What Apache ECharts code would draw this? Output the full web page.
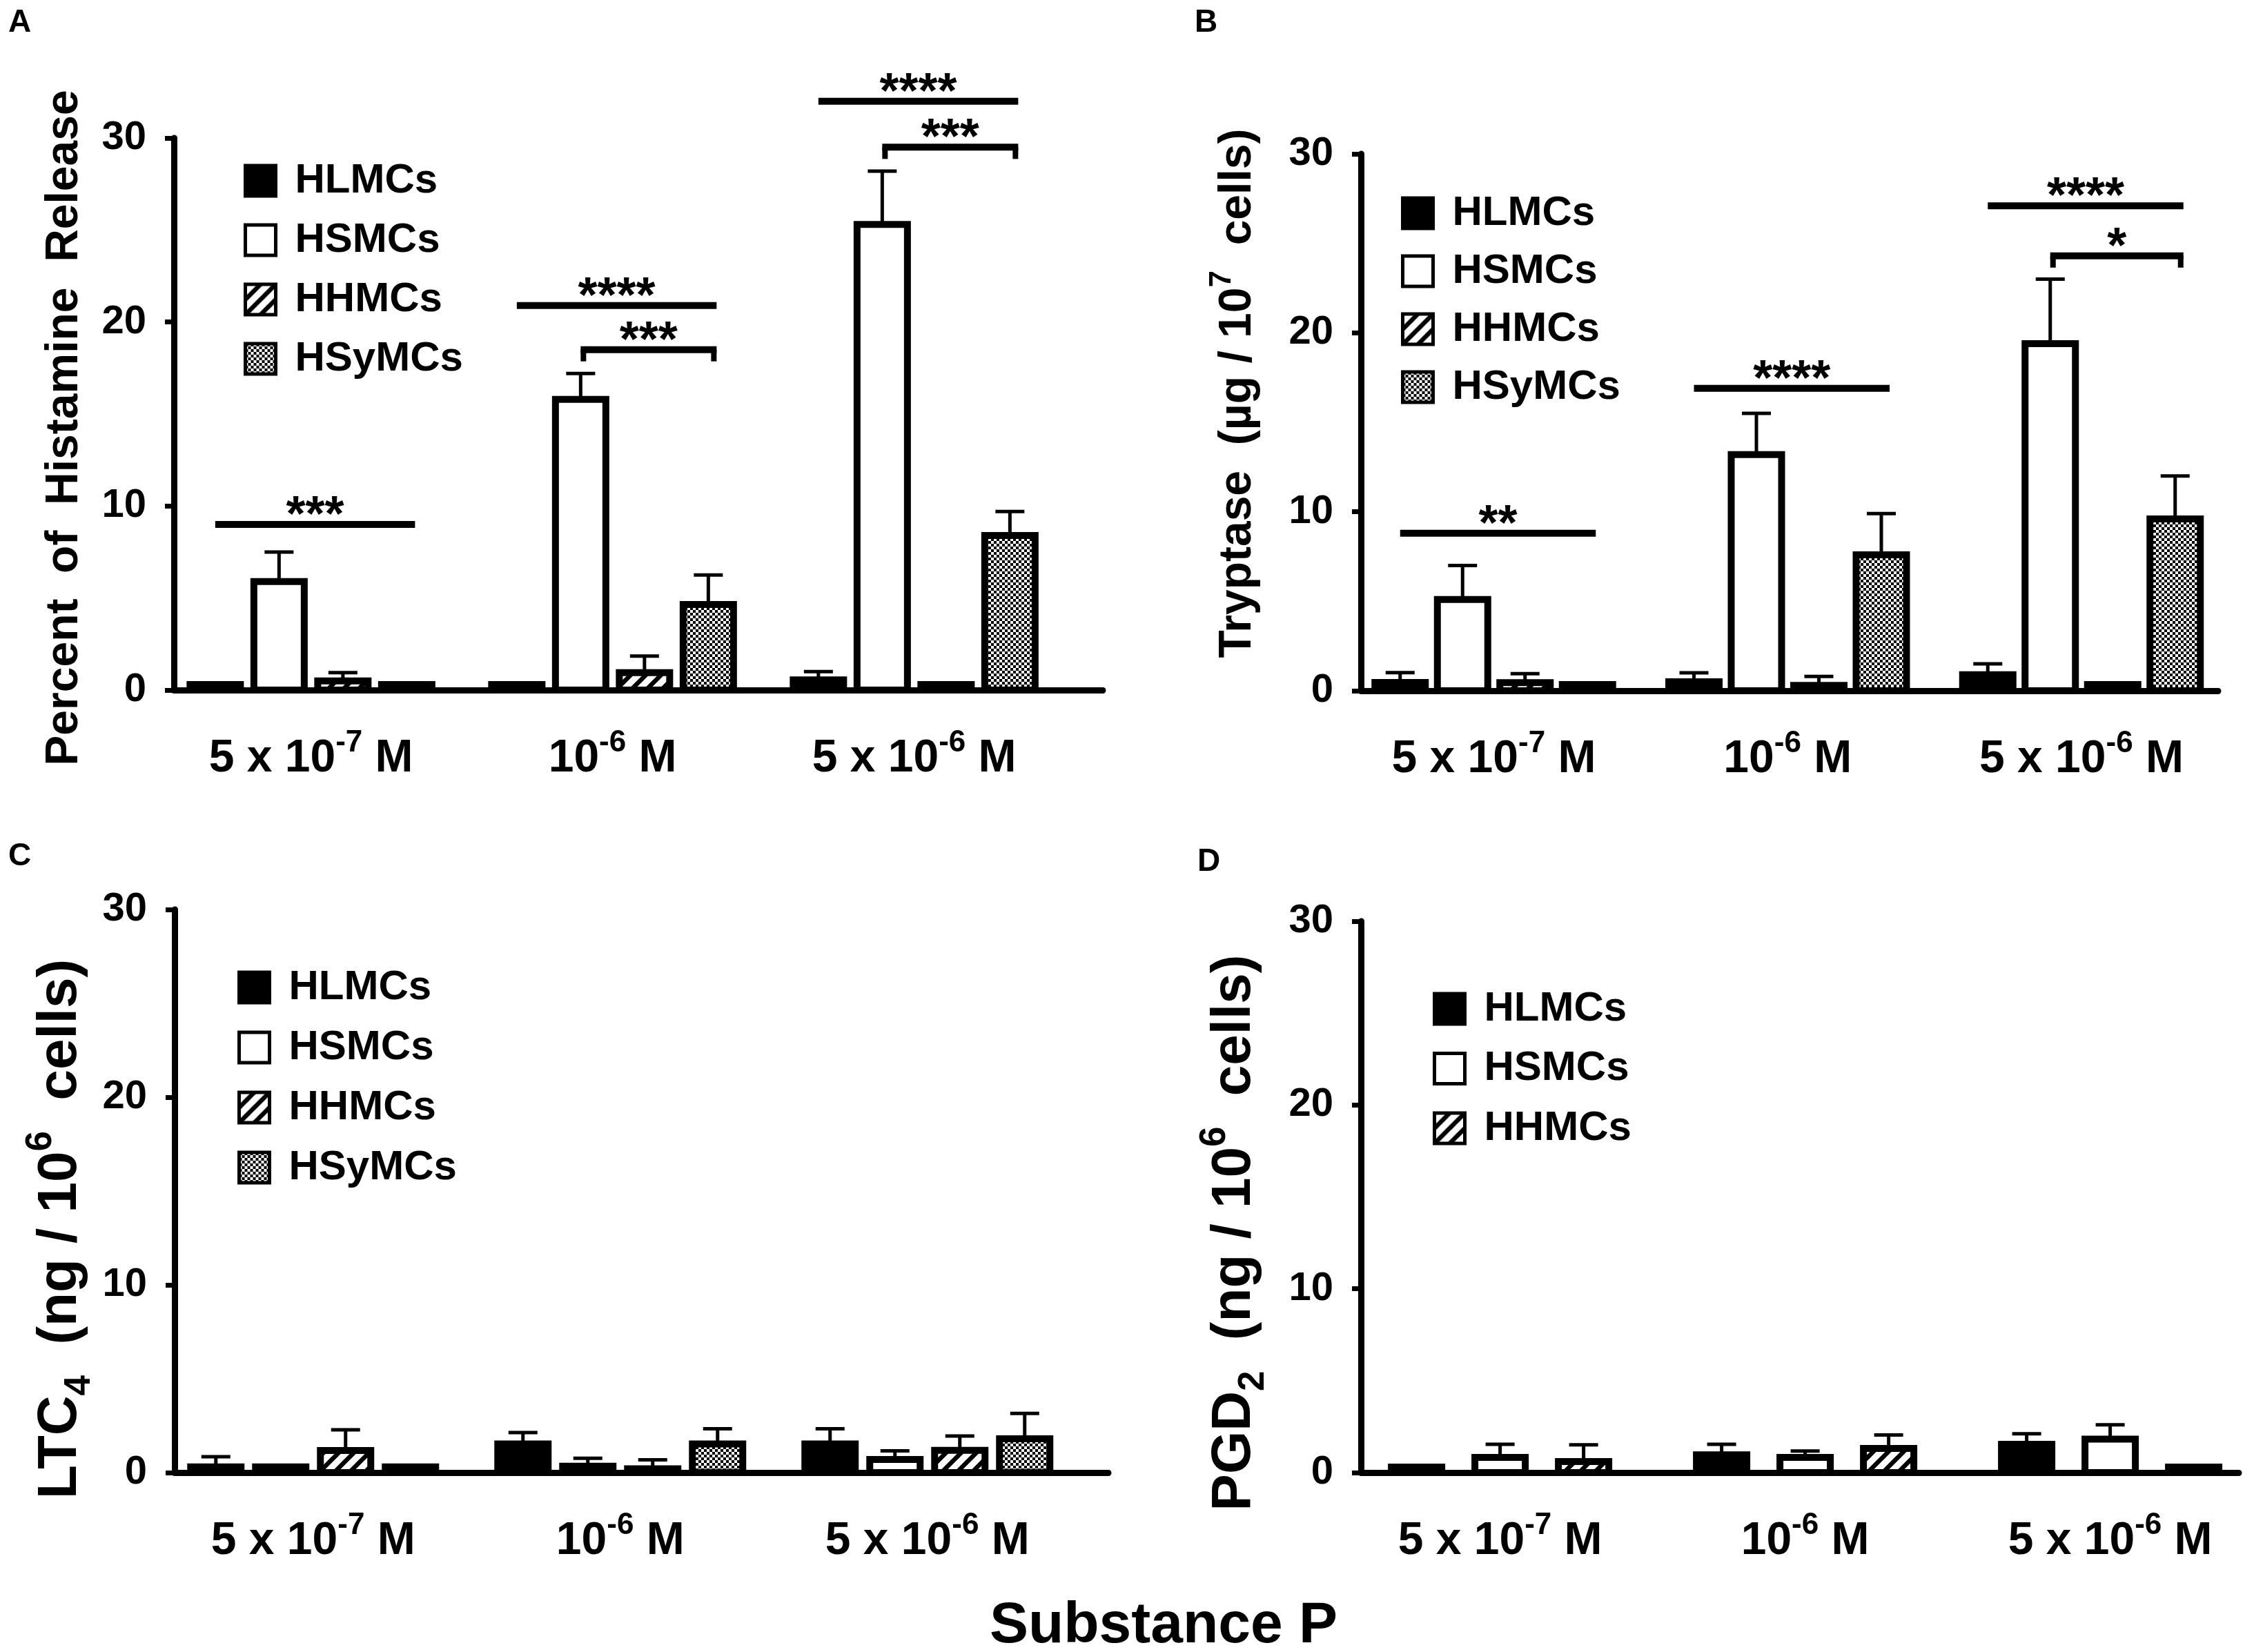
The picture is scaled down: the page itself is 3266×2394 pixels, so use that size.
<!DOCTYPE html>
<html>
<head>
<meta charset="utf-8">
<script src="https://cdn.jsdelivr.net/npm/echarts@6/dist/echarts.min.js"></script>
<style>
html, body { margin: 0; padding: 0; background: #fff; }
#chart { width: 3266px; height: 2394px; }
</style>
</head>
<body>
<div id="chart"></div>
<script>
// ---- data ----
var cellTypes = ['HLMCs', 'HSMCs', 'HHMCs', 'HSyMCs'];
var doseBase = ['5 x 10', '10', '5 x 10'];
var doseExp = ['-7', '-6', '-6'];
var yTicks = [0, 10, 20, 30];

// rows = cell type, columns = dose
var histamineMean = [[0.3, 0.3, 0.55], [5.9, 15.8, 25.3], [0.5, 0.95, 0.3], [0.3, 4.65, 8.4]];
var histamineSem = [[0, 0, 0.45], [1.6, 1.4, 2.9], [0.45, 0.9, 0], [0, 1.6, 1.3]];
var tryptaseMean = [[0.46, 0.5, 0.9], [5.1, 13.2, 19.4], [0.45, 0.3, 0.35], [0.35, 7.6, 9.6]];
var tryptaseSem = [[0.55, 0.5, 0.6], [1.9, 2.3, 3.6], [0.5, 0.5, 0], [0, 2.3, 2.4]];
var ltc4Mean = [[0.3, 1.53, 1.53], [0.3, 0.34, 0.7], [1.18, 0.2, 1.19], [0.3, 1.53, 1.8]];
var ltc4Sem = [[0.55, 0.6, 0.8], [0, 0.42, 0.46], [1.1, 0.48, 0.76], [0, 0.8, 1.35]];
var pgd2Mean = [[0.3, 0.97, 1.54], [0.83, 0.83, 1.82], [0.6, 1.31, 0.3]];
var pgd2Sem = [[0, 0.57, 0.57], [0.71, 0.34, 0.78], [0.91, 0.74, 0]];

// significance marks: dose group, first bar, last bar, height, bracket ends, stars
var histSigGroup = [0, 1, 1, 2, 2];
var histSigFrom = [0, 0, 1, 0, 1];
var histSigTo = [3, 3, 3, 3, 3];
var histSigY = [9.0, 20.9, 18.5, 32.0, 29.5];
var histSigBracket = [0, 0, 1, 0, 1];
var histSigText = ['***', '****', '***', '****', '***'];
var trypSigGroup = [0, 1, 2, 2];
var trypSigFrom = [0, 0, 0, 1];
var trypSigTo = [3, 3, 3, 3];
var trypSigY = [8.8, 16.9, 27.1, 24.3];
var trypSigBracket = [0, 0, 0, 1];
var trypSigText = ['**', '****', '****', '*'];

// ---- styles ----
var FONT = "'Liberation Sans', Arial, sans-serif";
var BAR_W = 73;

function makeHatch() {
    var c = document.createElement('canvas');
    c.width = 22; c.height = 22;
    var ctx = c.getContext('2d');
    ctx.fillStyle = '#fff';
    ctx.fillRect(0, 0, 22, 22);
    ctx.strokeStyle = '#000';
    ctx.lineWidth = 6.5;
    ctx.beginPath();
    ctx.moveTo(-11, 11); ctx.lineTo(11, -11);
    ctx.moveTo(0, 22); ctx.lineTo(22, 0);
    ctx.moveTo(11, 33); ctx.lineTo(33, 11);
    ctx.stroke();
    return c;
}
function makeChecker() {
    var c = document.createElement('canvas');
    c.width = 8; c.height = 8;
    var ctx = c.getContext('2d');
    ctx.fillStyle = '#fff';
    ctx.fillRect(0, 0, 8, 8);
    ctx.fillStyle = '#000';
    ctx.fillRect(0, 0, 4, 4);
    ctx.fillRect(4, 4, 4, 4);
    return c;
}
var fills = ['#000', '#fff',
    { image: makeHatch(), repeat: 'repeat' },
    { image: makeChecker(), repeat: 'repeat' }];

function titleRich(size) {
    var sm = Math.round(size * 0.66);
    return {
        t: { fontSize: size, fontWeight: 'bold', fontFamily: FONT, color: '#000', lineHeight: Math.round(size * 1.36) },
        s: { fontSize: sm, fontWeight: 'bold', fontFamily: FONT, color: '#000', lineHeight: Math.round(size * 0.55), verticalAlign: 'top' },
        d: { fontSize: sm, fontWeight: 'bold', fontFamily: FONT, color: '#000', lineHeight: Math.round(size * 0.9), verticalAlign: 'bottom' }
    };
}

var panels = [
    { letter: 'A', lx: 12, ly: 10, left: 252, right: 1598, top: 200, bottom: 1000, g0: 450.6, gap: 437, pitch: 92.5,
      name: '{t|Percent  of  Histamine  Release}', nameSize: 66, nameGap: 113, namePad: [0, 40, 0, 0],
      legendX: 353, legendY: 232, legendGap: 26,
      mean: histamineMean, sem: histamineSem,
      sig: [histSigGroup, histSigFrom, histSigTo, histSigY, histSigBracket], sigText: histSigText },
    { letter: 'B', lx: 1731, ly: 10, left: 1972, right: 3214, top: 223, bottom: 1001, g0: 2164.5, gap: 425.75, pitch: 90.5,
      name: '{t|Tryptase  (\u00b5g / 10}{s|7}{t|  cells)}', nameSize: 66, nameGap: 133, namePad: [0, 0, 0, 84],
      legendX: 2030, legendY: 279, legendGap: 24,
      mean: tryptaseMean, sem: tryptaseSem,
      sig: [trypSigGroup, trypSigFrom, trypSigTo, trypSigY, trypSigBracket], sigText: trypSigText },
    { letter: 'C', lx: 12, ly: 1218, left: 253, right: 1606, top: 1318, bottom: 2134, g0: 453.75, gap: 445, pitch: 94,
      name: '{t|LTC}{d|4}{t|  (ng / 10}{s|6}{t|  cells)}', nameSize: 80, nameGap: 111, namePad: [0, 110, 0, 0],
      legendX: 344, legendY: 1401, legendGap: 27,
      mean: ltc4Mean, sem: ltc4Sem, sig: null },
    { letter: 'D', lx: 1735, ly: 1226, left: 1972, right: 3244, top: 1335, bottom: 2134, g0: 2173.6, gap: 442, pitch: 121,
      name: '{t|PGD}{d|2}{t|  (ng / 10}{s|6}{t|  cells)}', nameSize: 80, nameGap: 129, namePad: [0, 104, 0, 0],
      legendX: 2076, legendY: 1432, legendGap: 26.5,
      mean: pgd2Mean, sem: pgd2Sem, sig: null }
];

function barRenderer(p, k, n) {
    return function(params, api) {
        var g = api.value(0), v = api.value(1), e = api.value(2);
        var off = (k - (n - 1) / 2) * p.pitch;
        var base = api.coord([g, 0]);
        var top = api.coord([g, v]);
        var et = api.coord([g, v + e]);
        var cx = base[0] + off;
        var children = [];
        if (e > 0) {
            children.push({ type: 'line', shape: { x1: cx, y1: top[1], x2: cx, y2: et[1] },
                style: { stroke: '#000', lineWidth: 5 } });
            children.push({ type: 'line', shape: { x1: cx - 21, y1: et[1], x2: cx + 21, y2: et[1] },
                style: { stroke: '#000', lineWidth: 5 } });
        }
        children.push({ type: 'rect', shape: { x: cx - BAR_W / 2, y: top[1], width: BAR_W, height: base[1] - top[1] },
            style: { fill: fills[k], stroke: '#000', lineWidth: 10 } });
        return { type: 'group', children: children };
    };
}

function sigRenderer(p, n, texts) {
    return function(params, api) {
        var g = api.value(0), a = api.value(1), b = api.value(2), y = api.value(3), br = api.value(4);
        var pt = api.coord([g, y]);
        var x1 = pt[0] + (a - (n - 1) / 2) * p.pitch;
        var x2 = pt[0] + (b - (n - 1) / 2) * p.pitch + 12;
        var children = [{ type: 'line', shape: { x1: x1, y1: pt[1], x2: x2, y2: pt[1] },
            style: { stroke: '#000', lineWidth: 10 } }];
        if (br) {
            children.push({ type: 'line', shape: { x1: x1 + 4, y1: pt[1], x2: x1 + 4, y2: pt[1] + 17 },
                style: { stroke: '#000', lineWidth: 8 } });
            children.push({ type: 'line', shape: { x1: x2 - 4, y1: pt[1], x2: x2 - 4, y2: pt[1] + 17 },
                style: { stroke: '#000', lineWidth: 8 } });
        }
        children.push({ type: 'text', x: (x1 + x2) / 2, y: pt[1] - 11,
            style: { text: texts[params.dataIndex], fontSize: 72, fontWeight: 'bold', fontFamily: FONT,
                fill: '#000', textAlign: 'center', textVerticalAlign: 'middle' } });
        return { type: 'group', children: children };
    };
}

var option = {
    animation: false,
    backgroundColor: '#fff',
    grid: [], xAxis: [], yAxis: [], series: [], legend: [],
    graphic: []
};

panels.forEach(function(p, i) {
    var n = p.mean.length;
    option.grid.push({ left: p.left, top: p.top, width: p.right - p.left, height: p.bottom - p.top,
        containLabel: false, outerBoundsMode: 'none' });
    option.xAxis.push({
        type: 'value', gridIndex: i,
        min: -(p.g0 - p.left) / p.gap, max: (p.right - p.g0) / p.gap,
        axisLine: { show: true, onZero: false, lineStyle: { color: '#000', width: 9 } },
        axisTick: { show: false },
        splitLine: { show: false },
        axisLabel: {
            customValues: [0, 1, 2],
            margin: 55,
            formatter: function(val) {
                var j = Math.round(val);
                return '{b|' + doseBase[j] + '}{s|' + doseExp[j] + '}{b| M}';
            },
            rich: {
                b: { fontSize: 66, fontWeight: 'bold', fontFamily: FONT, color: '#000', lineHeight: 90 },
                s: { fontSize: 44, fontWeight: 'bold', fontFamily: FONT, color: '#000', lineHeight: 36, verticalAlign: 'top' }
            }
        }
    });
    option.yAxis.push({
        type: 'value', gridIndex: i,
        min: yTicks[0], max: yTicks[yTicks.length - 1], interval: yTicks[1] - yTicks[0],
        axisLine: { show: true, onZero: false, lineStyle: { color: '#000', width: 9 } },
        axisTick: { show: true, length: 13, lineStyle: { color: '#000', width: 7 } },
        splitLine: { show: false },
        axisLabel: { fontSize: 58, fontWeight: 'bold', fontFamily: FONT, color: '#000', margin: 40 },
        name: p.name, nameLocation: 'middle', nameRotate: 90, nameGap: p.nameGap, nameMoveOverlap: false,
        nameTextStyle: { rich: titleRich(p.nameSize), padding: p.namePad }
    });
    for (var k = 0; k < n; k++) {
        option.series.push({
            type: 'custom', name: cellTypes[k], xAxisIndex: i, yAxisIndex: i, clip: false,
            itemStyle: { color: fills[k], borderColor: '#000', borderWidth: 10 },
            data: p.mean[k].map(function(v, g) { return [g, v, p.sem[k][g]]; }),
            renderItem: barRenderer(p, k, n)
        });
    }
    if (p.sig) {
        var rows = p.sig[0].map(function(g, r) {
            return [g, p.sig[1][r], p.sig[2][r], p.sig[3][r], p.sig[4][r]];
        });
        option.series.push({
            type: 'custom', xAxisIndex: i, yAxisIndex: i, clip: false,
            encode: { x: 0, y: 3 },
            data: rows,
            renderItem: sigRenderer(p, n, p.sigText)
        });
    }
    option.legend.push({
        orient: 'vertical', left: p.legendX, top: p.legendY, padding: 0,
        itemWidth: 44, itemHeight: 44, itemGap: p.legendGap, icon: 'rect', selectedMode: false,
        textStyle: { fontFamily: FONT, fontWeight: 'bold', fontSize: 60, color: '#000', lineHeight: 60,
            padding: [0, 0, 0, 23] },
        data: cellTypes.slice(0, n).map(function(name, k) {
            return { name: name, itemStyle: { color: fills[k], borderColor: '#000', borderWidth: 5 } };
        })
    });
    option.graphic.push({
        type: 'text', left: p.lx, top: p.ly,
        style: { text: p.letter, fontSize: 46, fontWeight: 'bold', fontFamily: FONT, fill: '#000' }
    });
});

option.graphic.push({
    type: 'text', x: 1686, y: 2357,
    style: { text: 'Substance P', fontSize: 84, fontWeight: 'bold', fontFamily: FONT, fill: '#000',
        textAlign: 'center', textVerticalAlign: 'middle' }
});

var chart = echarts.init(document.getElementById('chart'));
chart.setOption(option);
</script>
</body>
</html>
